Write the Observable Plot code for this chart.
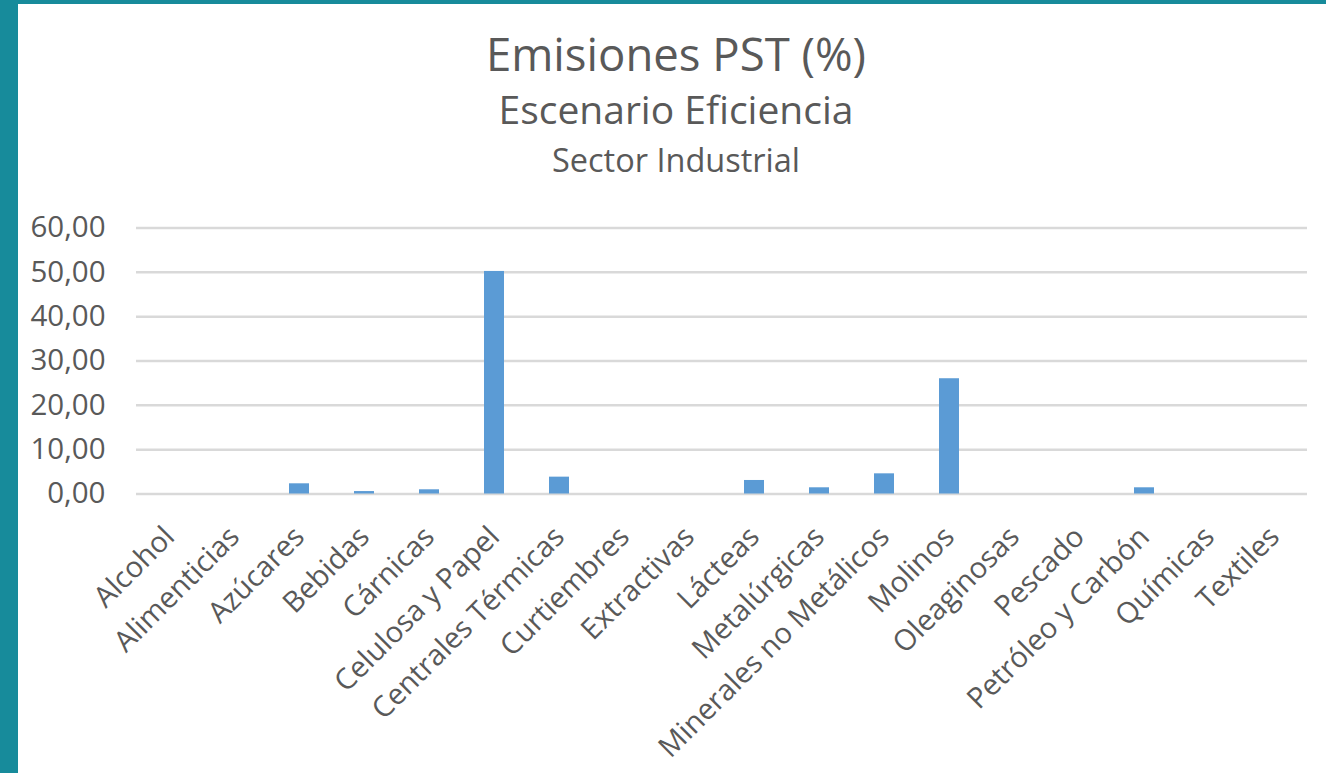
<!DOCTYPE html>
<html lang="es">
<head>
<meta charset="utf-8">
<title>Emisiones PST (%)</title>
<script src="https://cdn.jsdelivr.net/npm/d3@7"></script>
<script src="https://cdn.jsdelivr.net/npm/@observablehq/plot@0.6"></script>
<style>
  html, body { margin: 0; padding: 0; background: #ffffff; }
  #frame {
    position: relative;
    width: 1326px;
    height: 773px;
    box-sizing: border-box;
    border-left: 18px solid #178b9b;
    border-top: 4px solid #178b9b;
    background: #ffffff;
    overflow: hidden;
    font-family: "Open Sans", sans-serif;
    color: #595959;
  }
  .heading {
    position: absolute;
    left: 4px;
    width: 1308px;
    text-align: center;
    white-space: nowrap;
    line-height: 1;
  }
  #title { top: 27px; font-size: 45.5px; }
  #subtitle { top: 85px; font-size: 39px; }
  #sector { top: 140px; font-size: 32.5px; }
  #chart { position: absolute; left: 0; top: 186px; }
</style>
</head>
<body>
<div id="frame">
  <div class="heading" id="title">Emisiones PST (%)</div>
  <div class="heading" id="subtitle">Escenario Eficiencia</div>
  <div class="heading" id="sector">Sector Industrial</div>
  <div id="chart"></div>
</div>
<script>
// Sectores industriales y su participación en las emisiones de PST (%)
const sectores = [
  "Alcohol", "Alimenticias", "Azúcares", "Bebidas", "Cárnicas",
  "Celulosa y Papel", "Centrales Térmicas", "Curtiembres", "Extractivas",
  "Lácteas", "Metalúrgicas", "Minerales no Metálicos", "Molinos",
  "Oleaginosas", "Pescado", "Petróleo y Carbón", "Químicas", "Textiles"
];
const emisiones = [
  0.00, 0.00, 2.30, 0.55, 0.95,
  50.20, 3.80, 0.00, 0.00,
  3.05, 1.40, 4.55, 26.00,
  0.00, 0.00, 1.40, 0.00, 0.00
];
const yTicks = [0, 10, 20, 30, 40, 50, 60];

const datos = sectores.map((sector, i) => ({ sector, valor: emisiones[i] }));
const formato = d => d.toFixed(2).replace(".", ",");

const chart = Plot.plot({
  width: 1308,
  height: 587,
  marginLeft: 118,
  marginRight: 19,
  marginTop: 37.5,
  marginBottom: 283.5,
  style: {
    fontFamily: "'Open Sans', sans-serif",
    fontSize: "29.5px",
    color: "#595959",
    background: "transparent",
    overflow: "visible"
  },
  x: { domain: sectores, paddingInner: 0.69, paddingOuter: 0.345, label: null },
  y: { domain: [0, 60], label: null },
  marks: [
    Plot.gridY(yTicks, { stroke: "#d9d9d9", strokeOpacity: 1, strokeWidth: 2.5 }),
    Plot.barY(datos, { x: "sector", y: "valor", fill: "#5b9bd5" }),
    Plot.axisY(yTicks, { tickSize: 0, tickPadding: 31, tickFormat: formato, fill: "#595959" }),
    Plot.axisX({ tickSize: 0, tickPadding: 38, tickRotate: -45, fontSize: 29, fill: "#595959" })
  ]
});
document.getElementById("chart").appendChild(chart);
</script>
</body>
</html>
